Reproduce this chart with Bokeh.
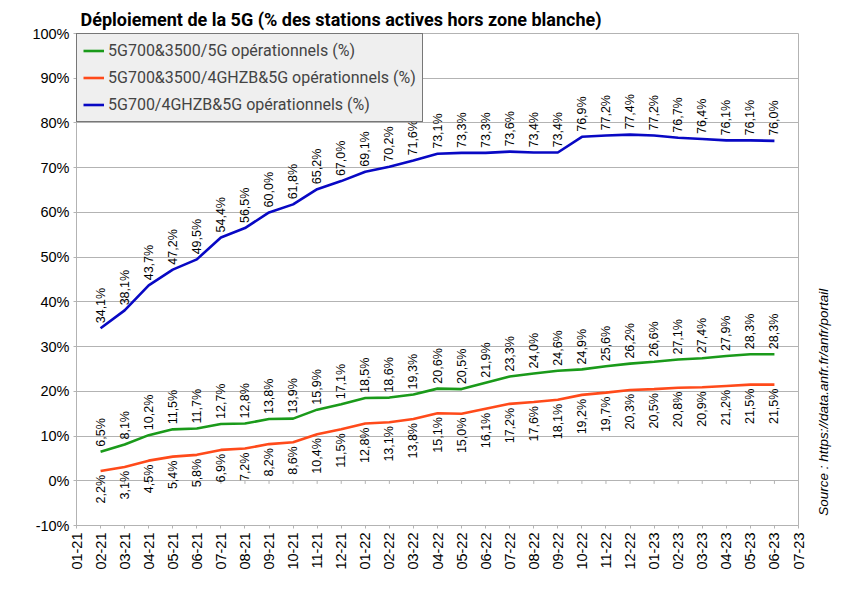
import math
from bokeh.plotting import figure
from bokeh.models import ColumnDataSource, FixedTicker, Legend, LegendItem, LinearAxis
from bokeh.core.properties import value
from bokeh.embed import file_html
from bokeh.resources import INLINE

month_labels = ["01-21", "02-21", "03-21", "04-21", "05-21", "06-21", "07-21", "08-21",
                "09-21", "10-21", "11-21", "12-21", "01-22", "02-22", "03-22", "04-22",
                "05-22", "06-22", "07-22", "08-22", "09-22", "10-22", "11-22", "12-22",
                "01-23", "02-23", "03-23", "04-23", "05-23", "06-23", "07-23"]
data_months = month_labels[1:30]

green_vals = [6.5, 8.1, 10.2, 11.5, 11.7, 12.7, 12.8, 13.8, 13.9, 15.9, 17.1, 18.5, 18.6,
              19.3, 20.6, 20.5, 21.9, 23.3, 24.0, 24.6, 24.9, 25.6, 26.2, 26.6, 27.1,
              27.4, 27.9, 28.3, 28.3]
orange_vals = [2.2, 3.1, 4.5, 5.4, 5.8, 6.9, 7.2, 8.2, 8.6, 10.4, 11.5, 12.8, 13.1, 13.8,
               15.1, 15.0, 16.1, 17.2, 17.6, 18.1, 19.2, 19.7, 20.3, 20.5, 20.8, 20.9,
               21.2, 21.5, 21.5]
blue_vals = [34.1, 38.1, 43.7, 47.2, 49.5, 54.4, 56.5, 60.0, 61.8, 65.2, 67.0, 69.1, 70.2,
             71.6, 73.1, 73.3, 73.3, 73.6, 73.4, 73.4, 76.9, 77.2, 77.4, 77.2, 76.7, 76.4,
             76.1, 76.1, 76.0]

series_names = ["5G700&3500/5G opérationnels (%)",
                "5G700&3500/4GHZB&5G opérationnels (%)",
                "5G700/4GHZB&5G opérationnels (%)"]
y_ticks = [-10, 0, 10, 20, 30, 40, 50, 60, 70, 80, 90, 100]
title_text = "Déploiement de la 5G (% des stations actives hors zone blanche)"
source_text = "Source : https://data.anfr.fr/anfr/portail"
source_anchor = -7.8  # where the source note starts, in y units

GREEN = "#1a9a1a"
ORANGE = "#ff4a1a"
BLUE = "#0808c4"
GRID = "#b3b3b3"

x_all = list(range(len(month_labels)))
x_data = [month_labels.index(m) for m in data_months]

def fmt(v):
    return f"{v:.1f}".replace(".", ",") + "%"

p = figure(width=841, height=587, output_backend="svg", toolbar_location=None,
           x_range=(0, len(month_labels) - 1), y_range=(y_ticks[0], y_ticks[-1]),
           min_border_left=76, min_border_right=42, min_border_top=33, min_border_bottom=62)
p.title.text = title_text
p.title.text_font = "Roboto"
p.title.text_font_style = "bold"
p.title.text_font_size = "18px"
p.title.text_color = "black"
p.title.align = "left"
p.title.offset = 4
p.title.standoff = 8
p.outline_line_color = GRID
p.background_fill_color = "white"
p.border_fill_color = "white"

p.xgrid.grid_line_color = None
p.ygrid.grid_line_color = GRID
p.ygrid.ticker = FixedTicker(ticks=y_ticks)

p.yaxis.ticker = FixedTicker(ticks=y_ticks)
p.yaxis.major_label_overrides = {t: f"{t}%" for t in y_ticks}
p.xaxis.ticker = FixedTicker(ticks=x_all)
p.xaxis.major_label_overrides = {i: lab for i, lab in enumerate(month_labels)}
p.xaxis.major_label_orientation = math.pi / 2
for ax in (p.xaxis, p.yaxis):
    ax.axis_line_color = GRID
    ax.major_tick_line_color = GRID
    ax.major_tick_out = 3
    ax.major_tick_in = 0
    ax.minor_tick_line_color = None
    ax.major_label_text_font = "Liberation Sans"
    ax.major_label_text_font_size = "14.5px"
    ax.major_label_text_color = "black"
    ax.major_label_standoff = 4

# source note as a right-hand axis label
src_axis = LinearAxis(ticker=FixedTicker(ticks=[source_anchor]),
                      major_label_overrides={source_anchor: source_text},
                      major_label_orientation=math.pi / 2,
                      major_label_text_font="Liberation Sans",
                      major_label_text_font_style="italic",
                      major_label_text_font_size="13.5px",
                      major_label_text_color="black",
                      major_label_standoff=19,
                      axis_line_color=None, major_tick_line_color=None,
                      minor_tick_line_color=None)
p.add_layout(src_axis, "right")

# small ticks on the 0% line
p.segment(x0=x_all, x1=x_all, y0=[0] * len(x_all), y1=[-0.7] * len(x_all),
          line_color=GRID, line_width=1)

series = [(green_vals, GREEN, "above"), (orange_vals, ORANGE, "below"), (blue_vals, BLUE, "above")]
renderers = []
for vals, col, pos in series:
    r = p.line(x_data, vals, line_color=col, line_width=2.6)
    renderers.append(r)
    src = ColumnDataSource(dict(x=x_data, y=vals, t=[fmt(v) for v in vals]))
    if pos == "above":
        p.text(x="x", y="y", text="t", source=src, angle=math.pi / 2, y_offset=-5,
               text_align="left", text_baseline="middle", text_color="black",
               text_font=value("Liberation Sans"), text_font_size="12.5px")
    else:
        p.text(x="x", y="y", text="t", source=src, angle=math.pi / 2, y_offset=4,
               text_align="right", text_baseline="middle", text_color="black",
               text_font=value("Liberation Sans"), text_font_size="12.5px")

legend = Legend(items=[LegendItem(label=n, renderers=[r]) for n, r in zip(series_names, renderers)],
                location="top_left", margin=0, padding=6, spacing=6,
                glyph_width=21, glyph_height=21, label_height=21, label_standoff=4,
                label_text_font="Roboto", label_text_font_size="16px",
                border_line_color="black", border_line_width=1,
                background_fill_color="#efefef", background_fill_alpha=1.0)
p.add_layout(legend, "center")

open("out.html", "w").write(file_html(p, INLINE))
